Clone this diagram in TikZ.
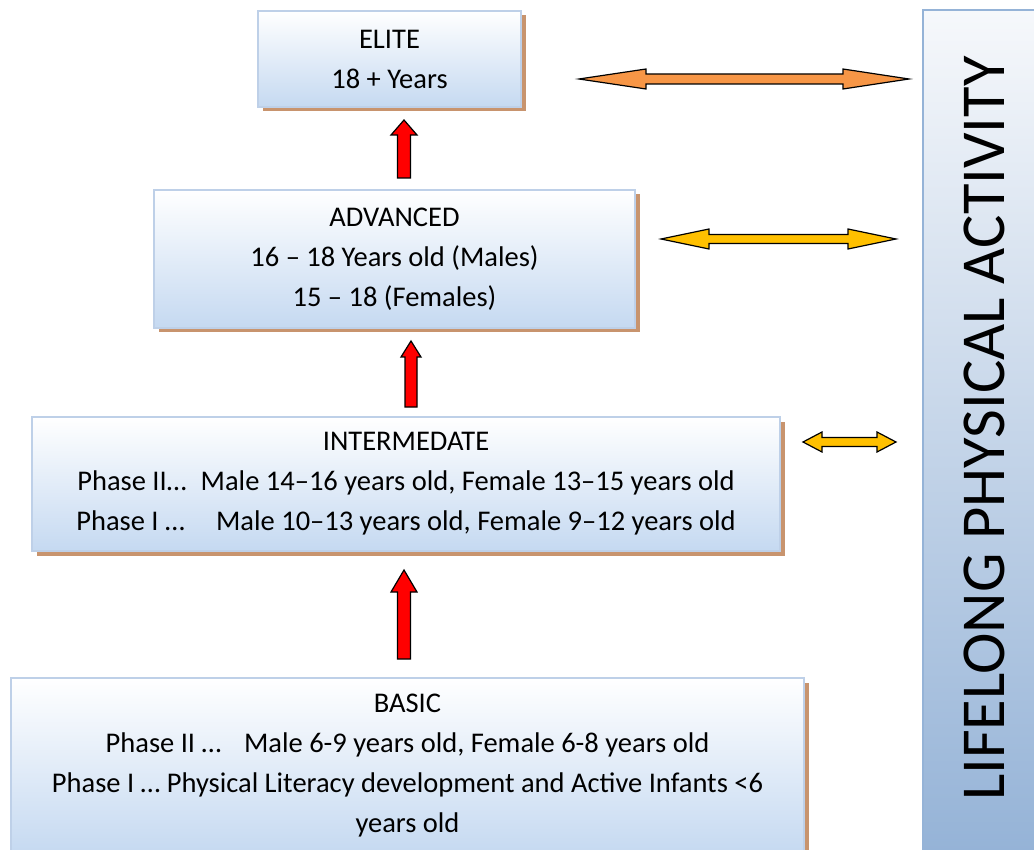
\documentclass[tikz,border=0pt]{standalone}
\usepackage{fontspec}
\setmainfont{Carlito}
\usetikzlibrary{calc,shadows}
\definecolor{boxline}{RGB}{190,208,232}
\definecolor{boxfill}{RGB}{197,217,241}
\definecolor{shadowtan}{RGB}{200,148,110}
\definecolor{bartop}{RGB}{246,248,251}
\definecolor{barbottom}{RGB}{149,179,215}
\definecolor{arroworange}{RGB}{247,150,70}
\definecolor{arrowyellow}{RGB}{255,192,0}
\tikzset{
  stage/.style={draw=boxline, line width=2pt, top color=white, bottom color=boxfill,
    align=center, inner sep=0pt, outer sep=0pt, font=\fontsize{28.5}{40}\selectfont,
    drop shadow={shadow xshift=4.5pt, shadow yshift=-4.5pt, fill=shadowtan, opacity=1}},
  % shaft half width / head half width / head length
  redup/.style args={#1/#2/#3}{draw=black, line width=1.2pt, fill=red, line join=miter,
    to path={-- ($(\tikztostart)+(#1,0)$) -- ($(\tikztotarget)+(#1,#3)$)
      -- ($(\tikztotarget)+(#2,#3)$) -- (\tikztotarget) -- ($(\tikztotarget)+(-#2,#3)$)
      -- ($(\tikztotarget)+(-#1,#3)$) -- ($(\tikztostart)+(-#1,0)$) -- cycle}},
  % shaft half width / head half width / left head / right head
  both/.style args={#1/#2/#3/#4}{draw=black, line width=1.2pt, line join=miter,
    to path={-- ($(\tikztostart)+(#3,-#2)$) -- ($(\tikztostart)+(#3,-#1)$)
      -- ($(\tikztotarget)+(-#4,-#1)$) -- ($(\tikztotarget)+(-#4,-#2)$) -- (\tikztotarget)
      -- ($(\tikztotarget)+(-#4,#2)$) -- ($(\tikztotarget)+(-#4,#1)$)
      -- ($(\tikztostart)+(#3,#1)$) -- ($(\tikztostart)+(#3,#2)$) -- cycle}}
}
\begin{document}
\begin{tikzpicture}[x=1pt,y=-1pt]
  \useasboundingbox (0,0) rectangle (1034,850);
  \node (lpa) [draw=barbottom, line width=2pt, top color=bartop, bottom color=barbottom,
    minimum width=122pt, minimum height=842pt, inner sep=0pt] at (984,431) {};
  \node (lpatext) [rotate=90, font=\fontsize{62.5}{62.5}\selectfont] at ([yshift=2.5pt]lpa.center)
    {LIFELONG PHYSICAL ACTIVITY};

  \node (elite) [stage, minimum width=263pt, minimum height=96pt] at (389.5,59)
    {ELITE\\18 + Years};
  \node (adv) [stage, minimum width=481pt, minimum height=138pt] at (394.5,259)
    {ADVANCED\\16 – 18 Years old (Males)\\15 – 18 (Females)};
  \node (inter) [stage, minimum width=748pt, minimum height=134pt] at (406,484)
    {INTERMEDATE\\Phase II…\hspace{0.5em}Male 14–16 years old, Female 13–15 years old\\
     Phase I …\hspace{1.1em}Male 10–13 years old, Female 9–12 years old};
  \node (basic) [stage, minimum width=793pt, minimum height=176pt] at (407.5,766)
    {BASIC\\Phase II …\hspace{0.8em}Male 6-9 years old, Female 6-8 years old\\
     Phase I … Physical Literacy development and Active Infants <6\\years old};

  \draw[redup=6.5/13/22] ([xshift=-3.5pt,yshift=19pt]basic.north) to ([xshift=-2pt,yshift=-19pt]inter.south);
  \draw[redup=6/10/16] ([xshift=5pt,yshift=10pt]inter.north) to ([xshift=16.5pt,yshift=-13pt]adv.south);
  \draw[redup=6.5/13/15] ([xshift=9.5pt,yshift=12pt]adv.north) to ([xshift=14.5pt,yshift=-13pt]elite.south);

  \path ([xshift=58pt,yshift=-20pt]elite.east) coordinate (l1)
        ([xshift=26pt,yshift=20pt]adv.east) coordinate (l2)
        ([xshift=23pt,yshift=42pt]inter.east) coordinate (l3);
  \draw[both=5/10/67/66, fill=arroworange] (l1) to ($(l1 -| lpa.west)+(-13,0)$);
  \draw[both=4.5/10/48/48, fill=arrowyellow] (l2) to ($(l2 -| lpa.west)+(-26,0)$);
  \draw[both=4.5/10/19/19, fill=arrowyellow] (l3) to ($(l3 -| lpa.west)+(-26,0)$);
\end{tikzpicture}
\end{document}
